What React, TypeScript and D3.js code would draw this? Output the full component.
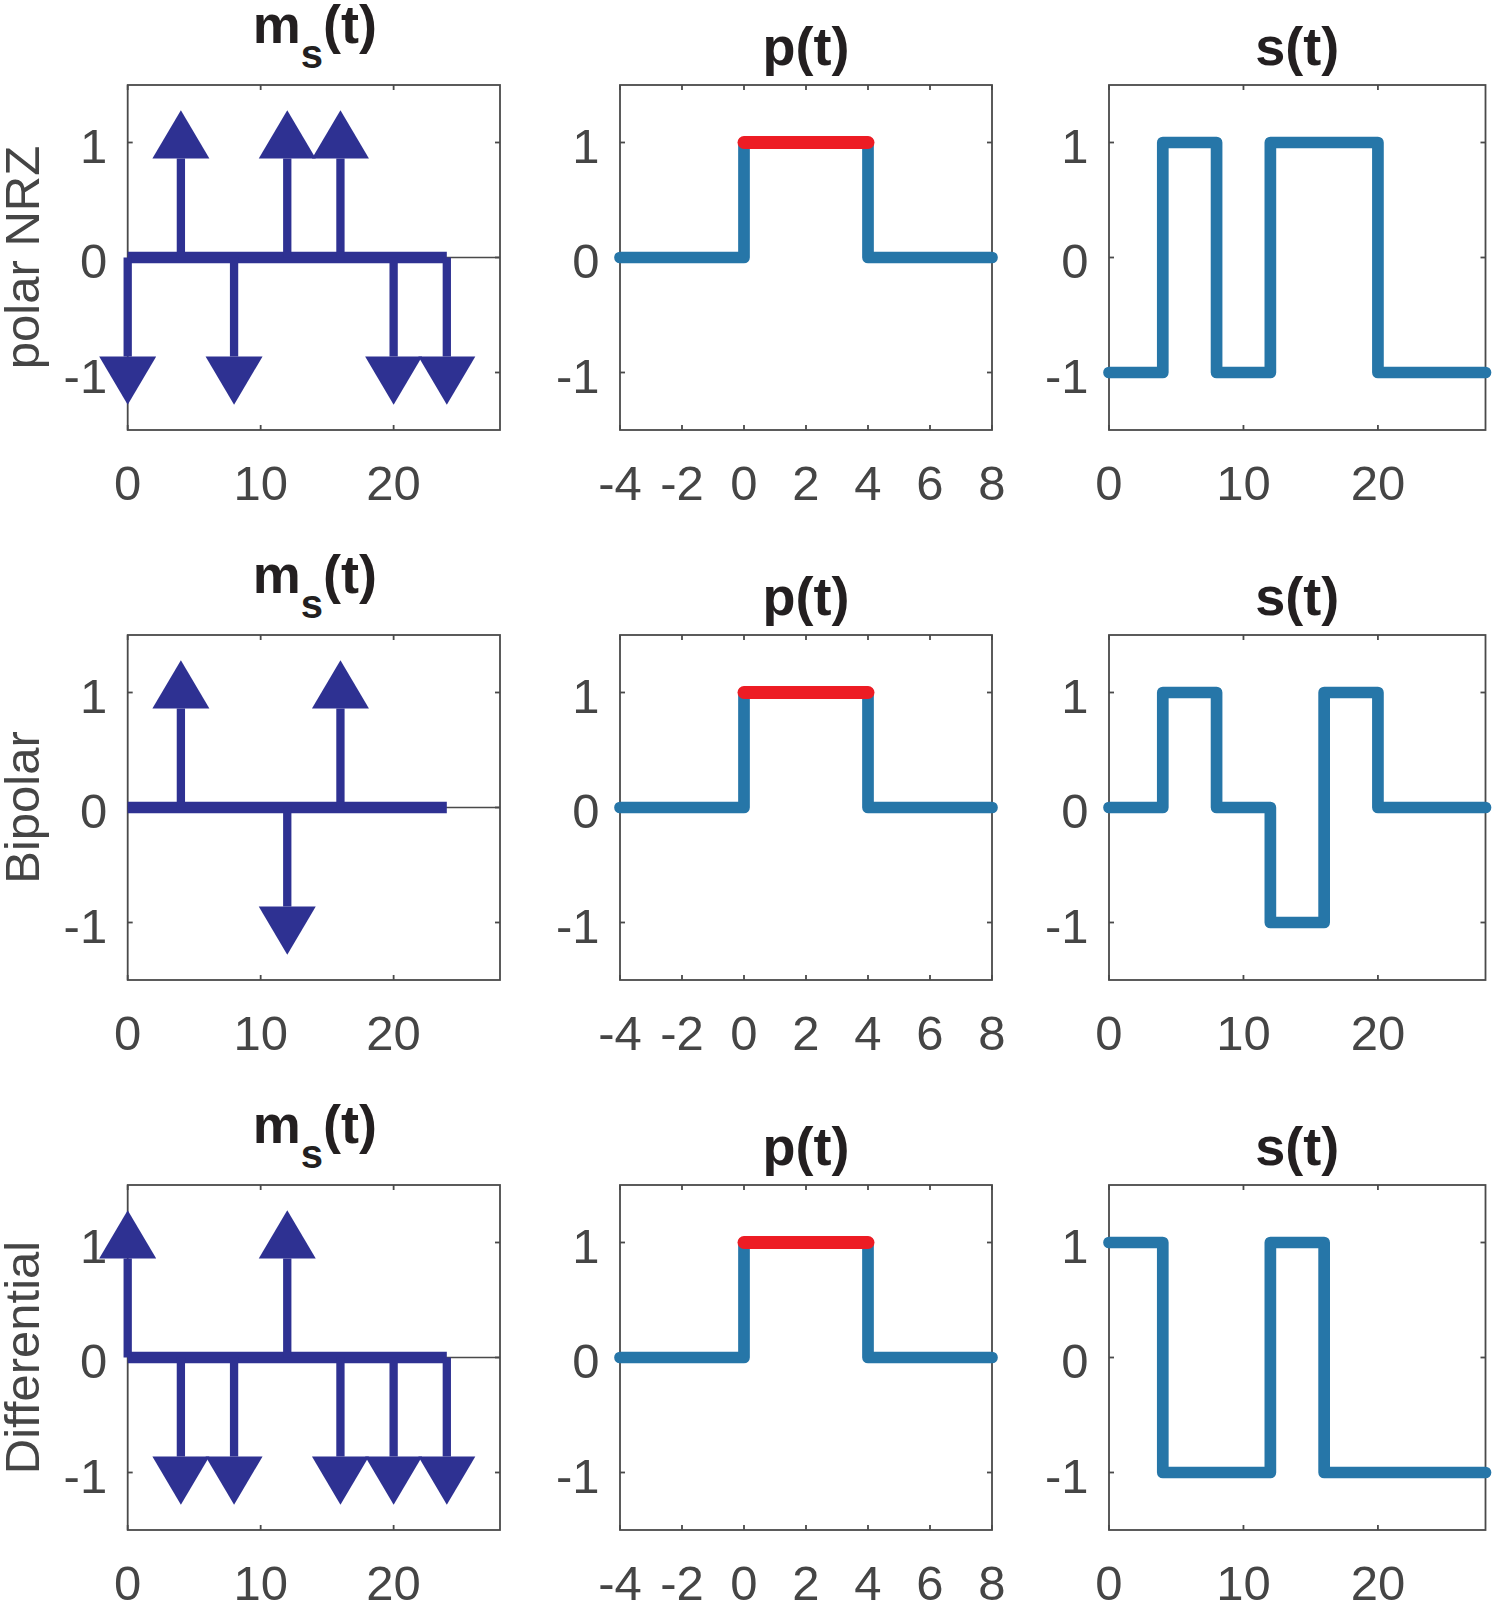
import React from "react";
import * as d3 from "d3";

// ---------- data ----------
const bitTimes = [0, 4, 8, 12, 16, 20, 24];
const polarNRZ = [-1, 1, -1, 1, 1, -1, -1];
const bipolar = [0, 1, 0, -1, 1, 0, 0];
const differential = [1, -1, -1, 1, -1, -1, -1];

// s(t) levels per symbol interval (interval edges in sEdges)
const sEdges = [0, 4, 8, 12, 16, 20, 24, 28];
const sPolarNRZ = [-1, 1, -1, 1, 1, -1, -1];
const sBipolar = [0, 1, 0, -1, 1, 0, 0];
const sDifferential = [1, -1, -1, 1, -1, -1, -1];

// p(t)
const pEdges = [-4, 0, 4, 8];
const pLevels = [0, 1, 0];
const pTopStart = 0;
const pTopEnd = 4;

const rowNames = ["polar NRZ", "Bipolar", "Differential"];
const rowMs = [polarNRZ, bipolar, differential];
const rowS = [sPolarNRZ, sBipolar, sDifferential];

const yTicks = [-1, 0, 1];
const msTicks = [0, 10, 20];
const pTicks = [-4, -2, 0, 2, 4, 6, 8];
const sTicks = [0, 10, 20];

// ---------- layout / style ----------
const W = 1492;
const H = 1604;
const rowTop0 = 85;
const rowStep = 550;
const axH = 345;
const cols = [
  { left: 127.7, width: 372.3, domain: [0, 28], ticks: msTicks },
  { left: 620, width: 372, domain: [-4, 8], ticks: pTicks },
  { left: 1109, width: 376.5, domain: [0, 28], ticks: sTicks },
];
const NAVY = "#2E3192";
const BLUE = "#2676A8";
const RED = "#ED1C24";
const AXIS = "#4A4A4A";
const LABEL = "#454545";
const TITLE = "#231F20";
const FONT = "'Liberation Sans', Arial, Helvetica, sans-serif";
const headBase = 0.86;
const headTip = 1.28;
const headHalfW = 28.5;

function stepPoints(edges: number[], levels: number[]): [number, number][] {
  const pts: [number, number][] = [];
  levels.forEach((v, i) => {
    pts.push([edges[i], v]);
    pts.push([edges[i + 1], v]);
  });
  return pts;
}

function Axes({ r, c, children, title }: any) {
  const col = cols[c];
  const top = rowTop0 + r * rowStep;
  const x = d3.scaleLinear().domain(col.domain).range([col.left, col.left + col.width]);
  const y = d3.scaleLinear().domain([-1.5, 1.5]).range([top + axH, top]);
  const tl = 5;
  return (
    <g>
      {col.ticks.map((t: number) => (
        <text
          key={"xl" + t}
          x={x(t)}
          y={top + axH + 70}
          textAnchor="middle"
          fontFamily={FONT}
          fontSize={49}
          fill={LABEL}
        >
          {t < 0 ? "-" + Math.abs(t) : String(t)}
        </text>
      ))}
      {yTicks.map((t) => (
        <text
          key={"yl" + t}
          x={col.left - 20.5}
          y={y(t) + 20}
          textAnchor="end"
          fontFamily={FONT}
          fontSize={49}
          fill={LABEL}
        >
          {t < 0 ? "-" + Math.abs(t) : String(t)}
        </text>
      ))}
      <rect
        x={col.left}
        y={top}
        width={col.width}
        height={axH}
        fill="none"
        stroke={AXIS}
        strokeWidth={1.8}
      />
      {col.ticks.map((t: number) => (
        <g key={"xt" + t}>
          <line x1={x(t)} x2={x(t)} y1={top + axH} y2={top + axH - tl} stroke={AXIS} strokeWidth={1.8} />
          <line x1={x(t)} x2={x(t)} y1={top} y2={top + tl} stroke={AXIS} strokeWidth={1.8} />
        </g>
      ))}
      {yTicks.map((t) => (
        <g key={"yt" + t}>
          <line x1={col.left} x2={col.left + tl} y1={y(t)} y2={y(t)} stroke={AXIS} strokeWidth={1.8} />
          <line
            x1={col.left + col.width}
            x2={col.left + col.width - tl}
            y1={y(t)}
            y2={y(t)}
            stroke={AXIS}
            strokeWidth={1.8}
          />
        </g>
      ))}
      {title}
      {children(x, y, top)}
    </g>
  );
}

function Title({ c, r, sub }: any) {
  const col = cols[c];
  const top = rowTop0 + r * rowStep;
  const cx = col.left + col.width / 2;
  if (sub) {
    return (
      <text
        x={cx + 1}
        y={top - 42}
        textAnchor="middle"
        fontFamily={FONT}
        fontWeight="bold"
        fontSize={54}
        fill={TITLE}
      >
        m
        <tspan fontSize={40} dy={25}>
          s
        </tspan>
        <tspan dy={-25}>(t)</tspan>
      </text>
    );
  }
  return (
    <text
      x={cx}
      y={top - 20}
      textAnchor="middle"
      fontFamily={FONT}
      fontWeight="bold"
      fontSize={54}
      fill={TITLE}
    >
      {c === 1 ? "p(t)" : "s(t)"}
    </text>
  );
}

export default function App() {
  const line = d3.line<[number, number]>();
  return (
    <svg
      width={W}
      height={H}
      style={{ position: "absolute", left: 0, top: 0, background: "#fff", display: "block" }}
    >
      <rect x={0} y={0} width={W} height={H} fill="#fff" />
      {rowNames.map((name, r) => {
        const top = rowTop0 + r * rowStep;
        const cy = top + axH / 2;
        const ms = rowMs[r];
        const sv = rowS[r];
        return (
          <g key={name}>
            <text
              transform={`translate(38.5,${cy}) rotate(-90)`}
              textAnchor="middle"
              fontFamily={FONT}
              fontSize={49}
              fill={LABEL}
            >
              {name}
            </text>
            <Axes r={r} c={0} title={<Title c={0} r={r} sub />}>
              {(x: any, y: any) => (
                <g>
                  <line
                    x1={x(cols[0].domain[0])}
                    x2={x(cols[0].domain[1])}
                    y1={y(0)}
                    y2={y(0)}
                    stroke={AXIS}
                    strokeWidth={1.6}
                  />
                  <line
                    x1={x(bitTimes[0])}
                    x2={x(bitTimes[bitTimes.length - 1])}
                    y1={y(0)}
                    y2={y(0)}
                    stroke={NAVY}
                    strokeWidth={11.7}
                  />
                  {bitTimes.map((t, i) => {
                    const v = ms[i];
                    if (v === 0) return null;
                    const xb = x(t);
                    const yb = y(v * headBase);
                    const yt = y(v * headTip);
                    return (
                      <g key={"a" + t}>
                        <line x1={xb} x2={xb} y1={y(0)} y2={yb} stroke={NAVY} strokeWidth={8.3} />
                        <path
                          d={`M${xb - headHalfW},${yb}L${xb + headHalfW},${yb}L${xb},${yt}Z`}
                          fill={NAVY}
                        />
                      </g>
                    );
                  })}
                </g>
              )}
            </Axes>
            <Axes r={r} c={1} title={<Title c={1} r={r} />}>
              {(x: any, y: any) => (
                <g>
                  <path
                    d={line(stepPoints(pEdges, pLevels).map(([a, b]) => [x(a), y(b)]) as any) || ""}
                    fill="none"
                    stroke={BLUE}
                    strokeWidth={11.7}
                    strokeLinejoin="round"
                    strokeLinecap="round"
                  />
                  <line
                    x1={x(pTopStart)}
                    x2={x(pTopEnd)}
                    y1={y(1)}
                    y2={y(1)}
                    stroke={RED}
                    strokeWidth={13}
                    strokeLinecap="round"
                  />
                </g>
              )}
            </Axes>
            <Axes r={r} c={2} title={<Title c={2} r={r} />}>
              {(x: any, y: any) => (
                <path
                  d={line(stepPoints(sEdges, sv).map(([a, b]) => [x(a), y(b)]) as any) || ""}
                  fill="none"
                  stroke={BLUE}
                  strokeWidth={11.7}
                  strokeLinejoin="round"
                  strokeLinecap="round"
                />
              )}
            </Axes>
          </g>
        );
      })}
    </svg>
  );
}
